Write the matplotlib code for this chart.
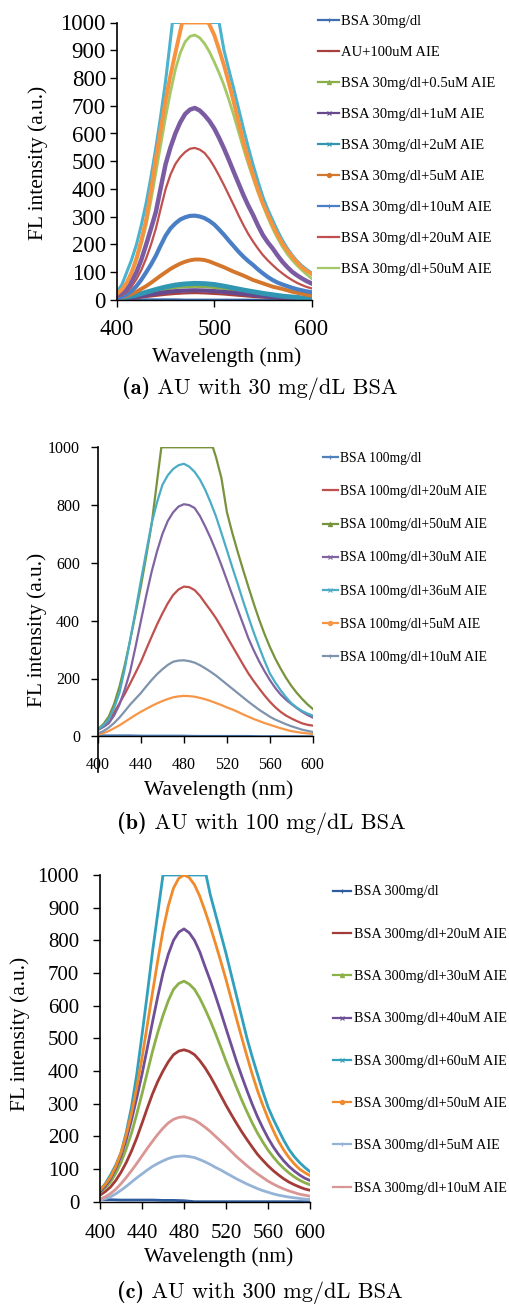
import matplotlib
matplotlib.use("Agg")
import matplotlib.pyplot as plt
from matplotlib.lines import Line2D

W, H = 509, 1305
SERIF = ["Liberation Serif", "DejaVu Serif"]

# wavelength grids (nm)
wl = list(range(400, 601, 10))
wl5 = list(range(400, 601, 5))

# ---------------- (a) AU with 30 mg/dL BSA ----------------
a_labels = ["BSA 30mg/dl", "AU+100uM AIE", "BSA 30mg/dl+0.5uM AIE",
            "BSA 30mg/dl+1uM AIE", "BSA 30mg/dl+2uM AIE", "BSA 30mg/dl+5uM AIE",
            "BSA 30mg/dl+10uM AIE", "BSA 30mg/dl+20uM AIE", "BSA 30mg/dl+50uM AIE"]
# weak traces, 10 nm steps
a_bsa = [2, 2, 2, 2, 2, 2, 2, 1, 1, 1, 1, 1, 1, 1, 1, 1, 1, 1, 1, 1, 1]
a_au100 = [2, 4, 7, 11, 15, 19, 22, 24, 25, 24, 22, 20, 17, 14, 11, 9, 7, 5, 4, 3, 2]
a_05 = [4, 9, 16, 24, 32, 40, 46, 49, 50, 49, 46, 42, 37, 31, 26, 21, 16, 12, 9, 7, 5]
a_1 = [3, 6, 11, 17, 23, 28, 32, 34, 35, 34, 32, 29, 26, 22, 18, 14, 11, 8, 6, 4, 3]
a_2 = [5, 10, 18, 28, 38, 47, 54, 58, 60, 59, 56, 50, 43, 36, 30, 24, 19, 14, 11, 8, 6]
# stronger traces, 5 nm steps
a_5 = [5, 9, 15, 22, 30, 40, 50, 62, 75, 88, 100, 112, 122, 131, 138, 143, 146, 146, 144, 139,
       132, 125, 118, 110, 102, 95, 88, 80, 72, 66, 60, 54, 48, 44, 40, 35, 30, 26, 23, 19, 16]
a_10 = [5, 11, 20, 33, 50, 73, 100, 128, 160, 197, 232, 258, 276, 290, 298, 303, 304, 301, 295, 285,
        272, 254, 235, 214, 194, 174, 156, 140, 126, 110, 96, 83, 72, 63, 56, 50, 44, 39, 35, 31, 28]
a_20 = [10, 18, 30, 49, 75, 108, 150, 200, 258, 330, 400, 452, 490, 515, 533, 545, 548, 542, 530, 508,
        480, 448, 414, 378, 342, 305, 270, 238, 210, 185, 162, 143, 126, 110, 96, 83, 72, 62, 54, 47, 42]
a_50 = [20, 35, 55, 92, 140, 200, 270, 360, 460, 560, 660, 750, 830, 890, 930, 950, 955, 945, 924, 895,
        858, 818, 774, 722, 666, 606, 546, 490, 438, 388, 342, 298, 258, 223, 192, 166, 144, 125, 108, 92, 78]
# further runs plotted without a legend entry
a_run10 = [15, 26, 40, 66, 100, 145, 200, 258, 318, 405, 490, 550, 600, 640, 670, 686, 692, 683, 666, 645,
           618, 584, 546, 505, 462, 420, 378, 340, 306, 268, 234, 208, 186, 161, 138, 119, 102, 89, 78, 68, 60]
a_run11_wl = [400, 405, 410, 415, 420, 425, 430, 435, 440, 445, 450, 457, 505, 510, 515, 520,
              525, 530, 535, 540, 545, 550, 555, 560, 565, 570, 575, 580, 585, 590, 595, 600]
a_run11 = [30, 55, 100, 145, 200, 270, 350, 445, 550, 665, 790, 1000, 1000, 900, 830, 762,
           690, 618, 550, 486, 427, 372, 327, 288, 250, 216, 187, 162, 141, 124, 110, 98]
a_run12_wl = [400, 405, 410, 415, 420, 425, 430, 435, 440, 445, 450, 455, 460, 467, 494, 500, 505, 510,
              515, 520, 525, 530, 535, 540, 545, 550, 555, 560, 565, 570, 575, 580, 585, 590, 595, 600]
a_run12 = [22, 38, 62, 100, 150, 215, 290, 395, 510, 615, 720, 810, 890, 1000, 1000, 955, 902, 846,
           782, 714, 641, 570, 508, 450, 396, 348, 308, 270, 235, 204, 179, 156, 136, 118, 105, 94]
a_colors = ["#3F6DAF", "#A8403D", "#8AAE48", "#674A8E", "#3196B2", "#D4772C",
            "#4A7FC6", "#C0504D", "#A4C865"]
a_extra_colors = ["#7B5CA2", "#4BB3CE", "#F7923F"]

# ---------------- (b) AU with 100 mg/dL BSA ----------------
b_labels = ["BSA 100mg/dl", "BSA 100mg/dl+20uM AIE", "BSA 100mg/dl+50uM AIE",
            "BSA 100mg/dl+30uM AIE", "BSA 100mg/dl+36uM AIE", "BSA 100mg/dl+5uM AIE",
            "BSA 100mg/dl+10uM AIE"]
b_bsa = [3, 3, 3, 3, 2, 2, 2, 2, 2, 1, 1, 1, 1, 1, 1, 0, 0, 0, 0, 0, 0]
b_20 = [22, 36, 56, 82, 114, 147, 183, 220, 258, 302, 345, 387, 425, 460, 489, 508, 518, 516, 506, 486,
        460, 435, 408, 377, 345, 313, 281, 249, 218, 191, 166, 142, 120, 101, 85, 72, 62, 53, 45, 40, 37]
b_50_wl = [400, 405, 410, 415, 420, 425, 430, 435, 440, 445, 450, 459, 507, 510, 515, 520,
           525, 530, 535, 540, 545, 550, 555, 560, 565, 570, 575, 580, 585, 590, 595, 600]
b_50 = [25, 42, 68, 112, 172, 248, 333, 425, 520, 625, 735, 1000, 1000, 965, 893, 777,
        705, 640, 578, 518, 460, 405, 355, 310, 270, 235, 203, 175, 151, 130, 111, 95]
b_30 = [22, 32, 45, 72, 110, 163, 225, 310, 400, 488, 570, 640, 700, 745, 775, 795, 803, 800, 790, 762,
        725, 685, 640, 592, 541, 490, 440, 390, 340, 298, 260, 226, 195, 168, 145, 127, 112, 98, 85, 74, 65]
b_36 = [24, 38, 58, 98, 150, 235, 335, 435, 540, 640, 737, 810, 870, 903, 925, 938, 943, 933, 915, 888,
        852, 808, 760, 703, 645, 586, 529, 470, 414, 360, 310, 262, 218, 187, 160, 136, 115, 100, 88, 79, 72]
b_5 = [5, 11, 18, 28, 38, 50, 62, 74, 85, 95, 105, 114, 122, 129, 135, 138, 140, 139, 137, 133,
       128, 122, 115, 108, 100, 93, 85, 76, 68, 60, 53, 46, 40, 34, 28, 23, 18, 15, 12, 10, 8]
b_10 = [10, 18, 30, 46, 65, 87, 110, 130, 150, 173, 195, 215, 232, 247, 258, 262, 263, 260, 255, 246,
        235, 223, 210, 195, 180, 165, 150, 135, 120, 106, 92, 80, 68, 58, 50, 42, 35, 29, 23, 19, 15]
b_colors = ["#4F81BD", "#C0504D", "#77933C", "#8064A2", "#4BACC6", "#F79646", "#7F94AC"]

# ---------------- (c) AU with 300 mg/dL BSA ----------------
c_labels = ["BSA 300mg/dl", "BSA 300mg/dl+20uM AIE", "BSA 300mg/dl+30uM AIE",
            "BSA 300mg/dl+40uM AIE", "BSA 300mg/dl+60uM AIE", "BSA 300mg/dl+50uM AIE",
            "BSA 300mg/dl+5uM AIE", "BSA 300mg/dl+10uM AIE"]
c_bsa = [6, 6, 5, 5, 5, 5, 4, 4, 3, 0, 0, 0, 0, 0, 0, 0, 0, 0, 0, 0, 0]
c_20 = [20, 31, 45, 65, 90, 120, 155, 195, 240, 286, 330, 368, 400, 428, 450, 461, 465, 460, 450, 432,
        410, 384, 355, 325, 295, 267, 240, 214, 190, 167, 145, 127, 110, 95, 82, 70, 60, 52, 45, 39, 35]
c_30 = [28, 42, 60, 87, 120, 162, 210, 268, 330, 395, 460, 518, 570, 615, 650, 668, 675, 666, 650, 623,
        590, 554, 515, 473, 430, 390, 350, 311, 275, 241, 210, 183, 158, 137, 118, 102, 88, 76, 66, 58, 52]
c_40 = [30, 48, 70, 102, 140, 190, 250, 318, 390, 470, 550, 628, 700, 757, 800, 825, 835, 823, 800, 765,
        720, 677, 630, 581, 530, 480, 430, 384, 340, 298, 260, 226, 195, 168, 145, 125, 108, 94, 82, 72, 65]
c_60_wl = [400, 405, 410, 415, 420, 425, 430, 435, 440, 445, 450, 460, 501, 505, 510, 515, 520,
           525, 530, 535, 540, 545, 550, 555, 560, 565, 570, 575, 580, 585, 590, 595, 600]
c_60 = [36, 55, 82, 112, 150, 212, 290, 390, 510, 635, 765, 1000, 1000, 940, 880, 820, 760,
        695, 630, 565, 500, 443, 390, 338, 290, 253, 220, 188, 160, 138, 120, 105, 92]
c_50 = [35, 53, 75, 108, 150, 205, 270, 350, 440, 540, 640, 738, 830, 905, 960, 990, 1000, 992, 970, 935,
        890, 842, 790, 736, 680, 620, 560, 502, 445, 390, 340, 296, 255, 218, 185, 158, 135, 116, 100, 89, 80]
c_5 = [5, 9, 15, 24, 35, 47, 60, 73, 85, 97, 108, 117, 125, 132, 137, 139, 140, 138, 135, 129,
       122, 114, 105, 97, 88, 79, 70, 62, 54, 47, 40, 34, 29, 24, 20, 17, 14, 12, 10, 8, 7]
c_10 = [8, 15, 25, 38, 55, 74, 95, 117, 140, 163, 185, 206, 225, 241, 252, 258, 260, 256, 250, 240,
        228, 215, 200, 185, 170, 154, 138, 124, 110, 97, 85, 74, 63, 54, 46, 39, 33, 28, 23, 20, 17]
c_colors = ["#2E5C9E", "#A33B38", "#8CB04A", "#6F4F96", "#31A0BD", "#F08A2A", "#95B3D7", "#D99694"]

markers = ["+", "_", "^", "x", "x", "o", "+", "_", "_"]


def rect(l, t, r, b):
    return [l / W, 1 - b / H, (r - l) / W, (b - t) / H]


def fxy(x, y):
    return x / W, 1 - y / H


fig = plt.figure(figsize=(W / 100, H / 100), dpi=100)
renderer = fig.canvas.get_renderer()


def style_axes(ax, xticks, yticks, tick_size, xpad, ypad):
    ax.set_xlim(400, 600)
    ax.set_ylim(0, 1000)
    ax.set_xticks(xticks)
    ax.set_yticks(yticks)
    for s in ["top", "right"]:
        ax.spines[s].set_visible(False)
    ax.spines["left"].set_linewidth(1.2)
    ax.spines["bottom"].set_linewidth(1.0)
    ax.tick_params(axis="both", direction="out", length=5, width=1.0)
    ax.tick_params(axis="x", pad=xpad)
    ax.tick_params(axis="y", pad=ypad)
    for lab in ax.get_xticklabels() + ax.get_yticklabels():
        lab.set_fontfamily(SERIF)
        lab.set_fontsize(tick_size)


def add_legend(ax, labels, colors, x, y, size, spacing, hlen):
    handles = [Line2D([], [], color=c, lw=1.6, marker=markers[i % len(markers)],
                      markersize=3, markeredgewidth=0.8)
               for i, c in enumerate(colors)]
    ax.legend(handles, labels, loc="upper left", bbox_to_anchor=fxy(x, y),
              bbox_transform=fig.transFigure, frameon=False, borderpad=0,
              borderaxespad=0, handlelength=hlen, handletextpad=0.15,
              labelspacing=spacing, prop={"family": SERIF, "size": size})


def labels_and_caption(xlab_xy, ylab_xy, cap_xy, tag, caption):
    fig.text(*fxy(*xlab_xy), "Wavelength (nm)", ha="center", va="center",
             family=SERIF, fontsize=15.5)
    fig.text(*fxy(*ylab_xy), "FL intensity (a.u.)", ha="center", va="center",
             rotation=90, family=SERIF, fontsize=15.5)
    t = fig.text(*fxy(*cap_xy), tag, ha="left", va="baseline",
                 family="cmb10", fontsize=16)
    bb = t.get_window_extent(renderer)
    fig.text(bb.x1 / fig.bbox.width, fxy(*cap_xy)[1], " " + caption,
             ha="left", va="baseline", family="cmr10", fontsize=16)


# ---- panel (a)
ax_a = fig.add_axes(rect(117, 22.5, 311.5, 300))
a_plots = [(wl, a_bsa, 1.6), (wl, a_au100, 1.6), (wl, a_05, 2.5), (wl, a_1, 3.0),
           (wl, a_2, 3.5), (wl5, a_5, 2.8), (wl5, a_10, 3.0), (wl5, a_20, 1.6),
           (wl5, a_50, 2.0)]
for (xs, ys, lw), c in zip(a_plots, a_colors):
    ax_a.plot(xs, ys, color=c, lw=lw, solid_joinstyle="round")
ax_a.plot(wl5, a_run10, color=a_extra_colors[0], lw=3.2)
ax_a.plot(a_run11_wl, a_run11, color=a_extra_colors[1], lw=2.2)
ax_a.plot(a_run12_wl, a_run12, color=a_extra_colors[2], lw=2.8)
style_axes(ax_a, [400, 500, 600], range(0, 1001, 100), 16.5, 9, 3)
add_legend(ax_a, a_labels, a_colors, 318, 15, 10.5, 1.215, 1.45)
labels_and_caption((227, 357), (38, 163), (122, 394), "(a)",
                   "AU with 30 mg/dL BSA")

# ---- panel (b)
ax_b = fig.add_axes(rect(98, 447.3, 312.7, 736.3))
b_plots = [(wl, b_bsa), (wl5, b_20), (b_50_wl, b_50), (wl5, b_30), (wl5, b_36),
           (wl5, b_5), (wl5, b_10)]
for (xs, ys), c in zip(b_plots, b_colors):
    ax_b.plot(xs, ys, color=c, lw=1.6)
style_axes(ax_b, range(400, 601, 40), range(0, 1001, 200), 11.5, 10, 8)
ax_b.spines["left"].set_bounds(-125, 1000)
add_legend(ax_b, b_labels, b_colors, 323, 452, 9.8, 1.48, 1.1)
labels_and_caption((219, 790), (37, 630), (117, 829), "(b)",
                   "AU with 100 mg/dL BSA")

# ---- panel (c)
ax_c = fig.add_axes(rect(100, 875, 310, 1201.7))
c_plots = [(wl, c_bsa), (wl5, c_20), (wl5, c_30), (wl5, c_40), (c_60_wl, c_60),
           (wl5, c_50), (wl5, c_5), (wl5, c_10)]
for (xs, ys), c in zip(c_plots, c_colors):
    ax_c.plot(xs, ys, color=c, lw=2.0)
style_axes(ax_c, range(400, 601, 40), range(0, 1001, 100), 15, 11, 10)
add_legend(ax_c, c_labels, c_colors, 333, 885.5, 10.2, 2.07, 1.3)
labels_and_caption((219, 1257), (20, 1034), (117, 1298), "(c)",
                   "AU with 300 mg/dL BSA")

fig.savefig("out.png", dpi=100)
